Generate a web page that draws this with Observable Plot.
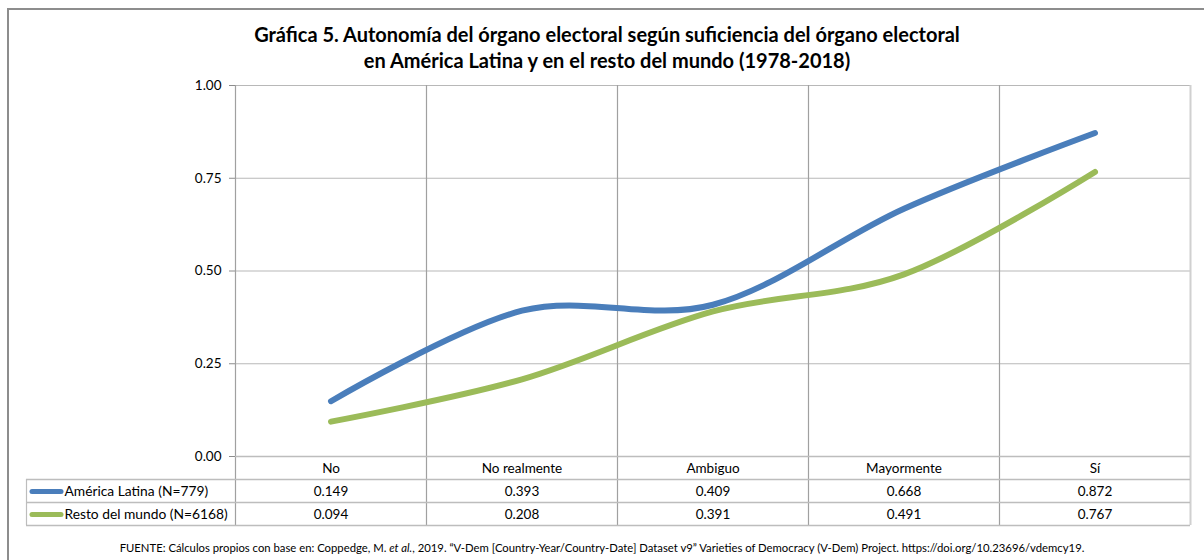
<!DOCTYPE html>
<html><head><meta charset="utf-8">
<script src="https://cdn.jsdelivr.net/npm/d3@7"></script>
<script src="https://cdn.jsdelivr.net/npm/@observablehq/plot@0.6"></script>
<style>
body{margin:0;width:1204px;height:560px;overflow:hidden;background:#fff;position:relative;font-family:Lato,"Open Sans",sans-serif;}
#frame{position:absolute;left:7px;top:8px;width:1300px;height:700px;border-top:2px solid #8d8d8d;border-left:2px solid #8d8d8d;}
#title{position:absolute;left:0;width:1214px;top:21px;text-align:center;font-weight:bold;font-size:20px;line-height:26px;color:#000;}
#chart{position:absolute;left:0;top:70px;}
#note{position:absolute;left:0;width:1204px;top:540px;text-align:center;font-size:11.3px;line-height:16px;color:#000;}
</style></head>
<body>
<div id="frame"></div>
<div id="title">Gráfica 5. Autonomía del órgano electoral según suficiencia del órgano electoral<br>en América Latina y en el resto del mundo (1978-2018)</div>
<div id="chart"></div>
<div id="note">FUENTE: Cálculos propios con base en: Coppedge, M. <i>et al.</i>, 2019. “V-Dem [Country-Year/Country-Date] Dataset v9” Varieties of Democracy (V-Dem) Project. https://doi.org/10.23696/vdemcy19.</div>
<script>
const categories = ["No", "No realmente", "Ambiguo", "Mayormente", "Sí"];
const seriesNames = ["América Latina (N=779)", "Resto del mundo (N=6168)"];
const latam = [0.149, 0.393, 0.409, 0.668, 0.872];
const resto = [0.094, 0.208, 0.391, 0.491, 0.767];
const seriesValues = [latam, resto];
const colors = ["#4A7EBB", "#9BBB59"];
const yTicks = [0, 0.25, 0.5, 0.75, 1];

const data = [];
seriesNames.forEach((s, k) => seriesValues[k].forEach((v, i) => data.push({series: s, k, i, cat: categories[i], value: v})));
const idx = categories.map((c, i) => i);
const bounds = d3.range(categories.length + 1).map(i => i - 0.5);
const rowDy = [35, 58];
const lineDy = [23, 46, 69];
const font = "Lato, 'Open Sans', sans-serif";

const marks = [
  Plot.ruleY(yTicks.filter(d => d > 0), {stroke: "#b8b8b8", strokeWidth: 1.2}),
  Plot.ruleX(bounds.slice(0, -1), {y1: 1, y2: 0, stroke: "#a0a0a0", strokeWidth: 1.2, insetBottom: -69}),
  Plot.ruleX(bounds.slice(-1), {y1: 1, y2: 0, stroke: "#d0d0d0", strokeWidth: 2, insetBottom: -69}),
  Plot.ruleX([bounds[0]], {y1: 0, y2: 0, stroke: "#bdbdbd", strokeWidth: 1.2, insetTop: 23, insetBottom: -69, dx: -209}),
  Plot.ruleY([0], {stroke: "#bdbdbd", strokeWidth: 1.5}),
  ...lineDy.map(dy => Plot.ruleY([0], {dy, stroke: "#bdbdbd", strokeWidth: 1.5, insetLeft: -209})),
  Plot.axisY(yTicks, {tickFormat: d3.format(".2f"), tickSize: 6, tickPadding: 8, stroke: "#8c8c8c", fontSize: 13.5, color: "#000", label: null}),
  Plot.text(idx, {x: d => d, y: 0, dy: 12, text: d => categories[d], fontSize: 13.5, fill: "#000"}),
  Plot.line(data, {x: "i", y: "value", z: "series", stroke: "series", strokeWidth: 6, curve: "cardinal", strokeLinecap: "round", strokeLinejoin: "round"}),
  ...seriesNames.map((s, k) => Plot.ruleY([0], {dy: rowDy[k], x1: bounds[0], x2: bounds[0], insetLeft: -203, insetRight: 174, stroke: colors[k], strokeWidth: 5, strokeLinecap: "round"})),
  ...seriesNames.map((s, k) => Plot.text([s], {x: bounds[0], y: 0, dy: rowDy[k], dx: -171, text: d => d, textAnchor: "start", fontSize: 13.8, fill: "#000"})),
  ...seriesNames.map((s, k) => Plot.text(data.filter(d => d.k === k), {x: "i", y: 0, dy: rowDy[k], text: d => d.value.toFixed(3), fontSize: 13.5, fill: "#000"}))
];

const chart = Plot.plot({
  width: 1204,
  height: 470,
  marginLeft: 235,
  marginRight: 14,
  marginTop: 15,
  marginBottom: 84,
  style: {fontFamily: font, background: "transparent", overflow: "visible"},
  x: {type: "linear", domain: [bounds[0], bounds[bounds.length - 1]], axis: null},
  y: {domain: [0, 1], axis: null},
  color: {domain: seriesNames, range: colors},
  marks
});
document.getElementById("chart").appendChild(chart);
</script>
</body></html>
